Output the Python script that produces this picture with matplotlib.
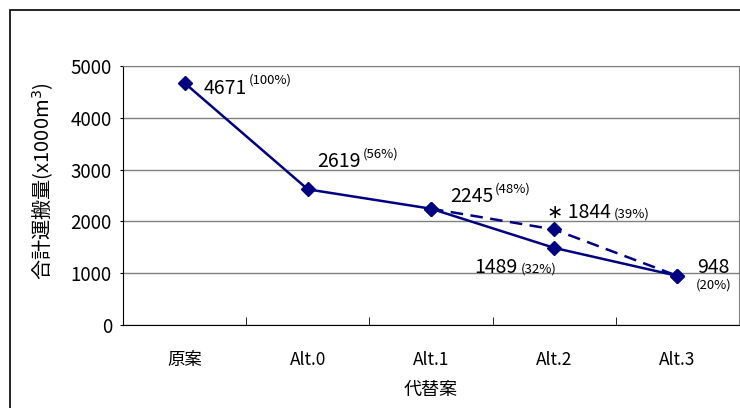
import matplotlib
matplotlib.use("Agg")
import matplotlib.pyplot as plt
from matplotlib.patches import Rectangle

plt.rcParams['font.family'] = ['Noto Sans CJK JP', 'DejaVu Sans']

categories = ["原案", "Alt.0", "Alt.1", "Alt.2", "Alt.3"]
main_values = [4671, 2619, 2245, 1489, 948]
main_pct = ["(100%)", "(56%)", "(48%)", "(32%)", "(20%)"]
alt_idx = [2, 3, 4]
alt_values = [2245, 1844, 948]
alt_pct = "(39%)"
yticks = [0, 1000, 2000, 3000, 4000, 5000]

navy = "#000080"
W, H = 740, 408
fig = plt.figure(figsize=(W / 100, H / 100), dpi=100)
ax = fig.add_axes([123 / W, 1 - 325 / H, 616 / W, 259 / H])

# outer frame of the chart object
fig.patches.append(Rectangle((10 / W, -0.1), 1.2, 1.1 - 10 / H, transform=fig.transFigure,
                             fill=False, edgecolor="black", linewidth=1.2))

x = list(range(len(categories)))
ax.plot(x, main_values, color=navy, linewidth=1.8, marker="D", markersize=7.5, zorder=3)
ax.plot(alt_idx, alt_values, color=navy, linewidth=1.8, linestyle=(0, (5, 3)),
        marker="D", markersize=7.5, zorder=3)

ax.set_xlim(-0.5, len(categories) - 0.5)
ax.set_ylim(0, 5000)
ax.set_yticks(yticks)
ax.set_xticks(x)
ax.set_xticklabels(categories, fontsize=12.5)
ax.set_xticks([i + 0.5 for i in x[:-1]], minor=True)
ax.tick_params(axis="x", which="major", length=0, pad=19)
ax.tick_params(axis="x", which="minor", direction="in", length=6, color="black")
ax.tick_params(axis="y", length=2, labelsize=13.5, pad=6)
ax.yaxis.grid(True, color="#808080", linewidth=1)
ax.set_axisbelow(True)
for s in ("top", "right"):
    ax.spines[s].set_color("#808080")
for s in ("left", "bottom"):
    ax.spines[s].set_color("black")

ax.set_xlabel("代替案", fontsize=13, labelpad=8)
ax.set_ylabel("合計運搬量(x1000m$^3$)", fontsize=14.5, va="center")
ax.yaxis.set_label_coords(-0.13, 0.555)

num_fs, pct_fs = 14, 9.5

def label(xi, yi, num, pct, off, pct_mode):
    t = ax.annotate(num, (xi, yi), xytext=off, textcoords="offset pixels",
                    fontsize=num_fs, ha="left", va="center")
    if pct_mode == "sup":
        ax.annotate(pct, xy=(1, 0.55), xycoords=t, xytext=(2, 0),
                    textcoords="offset pixels", fontsize=pct_fs, ha="left", va="bottom")
    elif pct_mode == "inline":
        ax.annotate(pct, xy=(1, 0.12), xycoords=t, xytext=(3, 0),
                    textcoords="offset pixels", fontsize=pct_fs, ha="left", va="bottom")
    else:
        ax.annotate(pct, xy=(0.5, 0), xycoords=t, xytext=(0, 0),
                    textcoords="offset pixels", fontsize=pct_fs, ha="center", va="top")

label(0, main_values[0], str(main_values[0]), main_pct[0], (19, -5), "sup")
label(1, main_values[1], str(main_values[1]), main_pct[1], (9, 28), "sup")
label(2, main_values[2], str(main_values[2]), main_pct[2], (19, 12), "sup")
label(3, main_values[3], str(main_values[3]), main_pct[3], (-80, -20), "inline")
label(4, main_values[4], str(main_values[4]), main_pct[4], (20, 8), "below")
label(3, alt_values[1], "∗ " + str(alt_values[1]), alt_pct, (-7, 17), "inline")

fig.savefig("out.png", dpi=100)
